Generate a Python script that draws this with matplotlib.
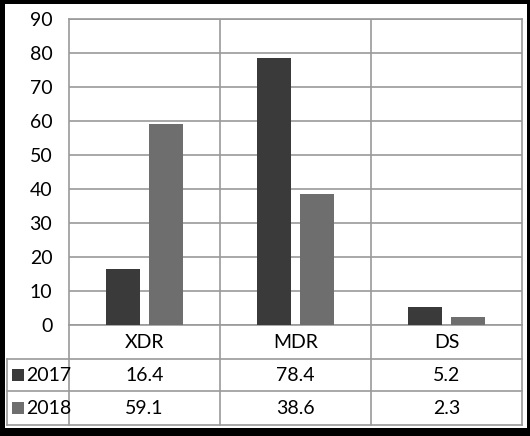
import matplotlib
matplotlib.use("Agg")
import matplotlib.pyplot as plt
from matplotlib.patches import Rectangle
from matplotlib.lines import Line2D

categories = ["XDR", "MDR", "DS"]
series_names = ["2017", "2018"]
values_2017 = [16.4, 78.4, 5.2]
values_2018 = [59.1, 38.6, 2.3]
yticks = [0, 10, 20, 30, 40, 50, 60, 70, 80, 90]

W, H = 530, 436
plt.rcParams['font.family'] = ['Lato', 'DejaVu Sans']
fig = plt.figure(figsize=(W / 100, H / 100), dpi=100)
fig.patch.set_facecolor('black')

def fx(px):
    return px / W

def fy(py):
    return 1 - py / H

# white inner panel
fig.add_artist(Rectangle((fx(5), fy(428)), fx(527) - fx(5), fy(4) - fy(428),
                         transform=fig.transFigure, facecolor='white', edgecolor='none', zorder=0))

grid_c = '#9a9a9a'
colors = ['#3a3a3a', '#6e6e6e']
fs = 14

left, right, top, bottom = 69, 522, 19, 325
ax = fig.add_axes([fx(left), fy(bottom), fx(right) - fx(left), fy(top) - fy(bottom)])
ax.set_facecolor('white')
x = range(len(categories))
bw = 0.225
off = 0.145
ax.bar([i - off for i in x], values_2017, width=bw, color=colors[0], zorder=3)
ax.bar([i + off for i in x], values_2018, width=bw, color=colors[1], zorder=3)
ax.set_xlim(-0.5, len(categories) - 0.5)
ax.set_ylim(0, 90)
ax.set_yticks(yticks)
ax.set_yticklabels([str(v) for v in yticks], fontsize=fs)
ax.set_xticks([])
ax.tick_params(axis='y', length=0, pad=12)
for yv in yticks:
    ax.axhline(yv, color=grid_c, lw=1.2, zorder=1)
for xv in [0.5, 1.5]:
    ax.axvline(xv, color=grid_c, lw=1.2, zorder=1)
for s in ax.spines.values():
    s.set_color(grid_c)
    s.set_linewidth(1.2)

# data table (figure coordinates)
row_lines = [325, 359, 391, 425]
colw = (right - left) / len(categories)
col_lines = [left + k * colw for k in range(len(categories) + 1)]
tbl_left = 7

def hline(y, x0, x1):
    fig.add_artist(Line2D([fx(x0), fx(x1)], [fy(y), fy(y)], transform=fig.transFigure,
                          color=grid_c, lw=1.2))

def vline(x, y0, y1):
    fig.add_artist(Line2D([fx(x), fx(x)], [fy(y0), fy(y1)], transform=fig.transFigure,
                          color=grid_c, lw=1.2))

hline(row_lines[1], tbl_left, right)
hline(row_lines[2], tbl_left, right)
hline(row_lines[3], tbl_left, right)
vline(tbl_left, row_lines[1], row_lines[3])
for cx in col_lines:
    vline(cx, row_lines[0], row_lines[3])

# category labels
for i, c in enumerate(categories):
    cx = (col_lines[i] + col_lines[i + 1]) / 2
    fig.text(fx(cx), fy((row_lines[0] + row_lines[1]) / 2), c, ha='center', va='center', fontsize=fs)

rows = [values_2017, values_2018]
for r, (name, vals) in enumerate(zip(series_names, rows)):
    cy = (row_lines[r + 1] + row_lines[r + 2]) / 2
    fig.add_artist(Rectangle((fx(12), fy(cy + 6)), fx(12), fy(0) - fy(12), transform=fig.transFigure,
                             facecolor=colors[r], edgecolor='none'))
    fig.text(fx(26), fy(cy), name, ha='left', va='center', fontsize=fs)
    for i, v in enumerate(vals):
        cx = (col_lines[i] + col_lines[i + 1]) / 2
        fig.text(fx(cx), fy(cy), f"{v}", ha='center', va='center', fontsize=fs)

fig.savefig("out.png", dpi=100, facecolor=fig.get_facecolor())
